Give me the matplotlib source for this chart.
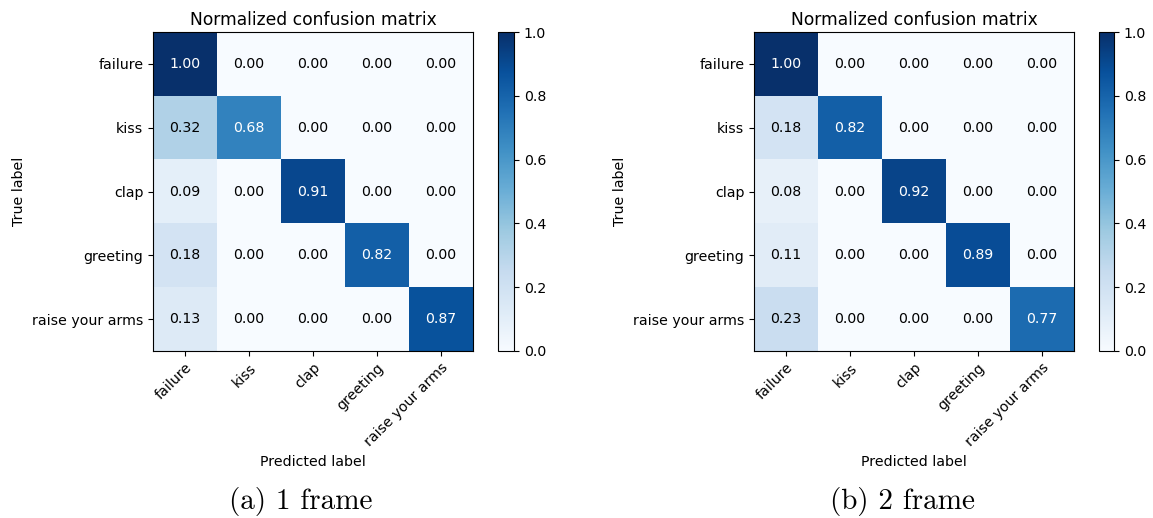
import numpy as np
import matplotlib
matplotlib.use('Agg')
import matplotlib.pyplot as plt

# clases y matrices de confusion normalizadas
classes = ['failure', 'kiss', 'clap', 'greeting', 'raise your arms']
cm_1frame = [[1.00, 0.00, 0.00, 0.00, 0.00],
             [0.32, 0.68, 0.00, 0.00, 0.00],
             [0.09, 0.00, 0.91, 0.00, 0.00],
             [0.18, 0.00, 0.00, 0.82, 0.00],
             [0.13, 0.00, 0.00, 0.00, 0.87]]
cm_2frame = [[1.00, 0.00, 0.00, 0.00, 0.00],
             [0.18, 0.82, 0.00, 0.00, 0.00],
             [0.08, 0.00, 0.92, 0.00, 0.00],
             [0.11, 0.00, 0.00, 0.89, 0.00],
             [0.23, 0.00, 0.00, 0.00, 0.77]]
captions = ['(a) 1 frame', '(b) 2 frame']

W, H = 1153, 518
fig = plt.figure(figsize=(W / 100, H / 100), dpi=100)
fs = 10.2

def box(x0, y0, x1, y1):
    # caja en pixeles -> fraccion de la figura
    return [x0 / W, 1 - y1 / H, (x1 - x0) / W, (y1 - y0) / H]

def plot_cm(cm, ax_box, cax_box, caption, cap_x):
    cm = np.array(cm)
    ax = fig.add_axes(box(*ax_box))
    im = ax.imshow(cm, interpolation='nearest', cmap=plt.cm.Blues, aspect='auto')
    ax.set_title('Normalized confusion matrix', fontsize=12.3, pad=5)
    cax = fig.add_axes(box(*cax_box))
    cb = fig.colorbar(im, cax=cax, ticks=np.arange(0, 1.01, 0.2))
    cb.ax.tick_params(labelsize=fs)
    marks = np.arange(len(classes))
    ax.set_xticks(marks)
    ax.set_xticklabels(classes, rotation=45, fontsize=fs, ha='right',
                       rotation_mode='anchor')
    ax.set_yticks(marks)
    ax.set_yticklabels(classes, fontsize=fs)
    thresh = cm.max() / 2.
    for i in range(cm.shape[0]):
        for j in range(cm.shape[1]):
            ax.text(j, i, format(cm[i, j], '.2f'), ha='center', va='center',
                    fontsize=fs, color='white' if cm[i, j] > thresh else 'black')
    ax.set_ylabel('True label', fontsize=fs)
    ax.set_xlabel('Predicted label', fontsize=fs)
    fig.text(cap_x / W, 1 - 509 / H, caption, fontfamily='cmr10', fontsize=21,
             ha='center', va='baseline')
    return ax

ax1 = plot_cm(cm_1frame, (153, 32, 473, 351), (498, 32, 514, 351), captions[0], 301)
ax2 = plot_cm(cm_2frame, (754, 32, 1074, 351), (1099, 32, 1114, 351), captions[1], 903)

fig.savefig('out.png', dpi=100)
